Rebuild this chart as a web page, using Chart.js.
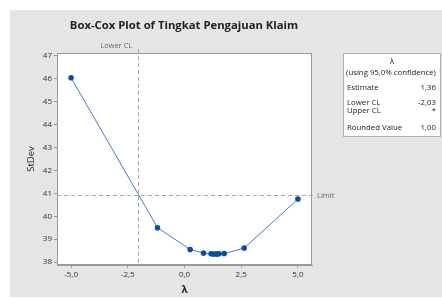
<!DOCTYPE html>
<html><head><meta charset="utf-8">
<script src="https://cdn.jsdelivr.net/npm/chart.js@4/dist/chart.umd.min.js"></script>
<style>html,body{margin:0;padding:0;background:#fff;}#c{display:block;}</style>
</head><body>
<canvas id="c" width="442" height="299"></canvas>
<script>
const lambdaValues = [-5.0, -1.19, 0.25, 0.84, 1.17, 1.26, 1.36, 1.45, 1.52, 1.75, 2.63, 5.0];
const stdevValues  = [46.05, 39.50, 38.55, 38.39, 38.36, 38.35, 38.35, 38.35, 38.36, 38.37, 38.61, 40.75];
const xTickValues = [-5.0, -2.5, 0.0, 2.5, 5.0];
const xTickLabels = ['-5,0', '-2,5', '0,0', '2,5', '5,0'];
const yTickValues = [38, 39, 40, 41, 42, 43, 44, 45, 46, 47];
const limitValue = 40.94;
const lowerCL = -2.03;
const titleText = 'Box-Cox Plot of Tingkat Pengajuan Klaim';
const legendRows = [['Estimate', '1,36'], ['Lower CL', '-2,03'], ['Upper CL', '*'], ['Rounded Value', '1,00']];

const FONT = '"Open Sans", "Noto Sans", sans-serif';

const deco = {
  id: 'deco',
  beforeDraw(chart) {
    const ctx = chart.ctx, a = chart.chartArea;
    ctx.save();
    ctx.fillStyle = '#e5e5e5';
    ctx.fillRect(10, 10, 432, 287);
    ctx.fillStyle = '#ffffff';
    ctx.fillRect(a.left, a.top, a.right - a.left, a.bottom - a.top);
    ctx.restore();
  },
  beforeDatasetsDraw(chart) {
    const ctx = chart.ctx, a = chart.chartArea;
    const xs = chart.scales.x, ys = chart.scales.y;
    const yL = Math.round(ys.getPixelForValue(limitValue)) + 0.5;
    const xL = Math.round(xs.getPixelForValue(lowerCL)) + 0.5;
    ctx.save();
    ctx.strokeStyle = '#a8a8a8';
    ctx.lineWidth = 1;
    ctx.setLineDash([4, 3]);
    ctx.beginPath(); ctx.moveTo(a.left, yL); ctx.lineTo(a.right + 4, yL); ctx.stroke();
    ctx.beginPath(); ctx.moveTo(xL, a.top - 4); ctx.lineTo(xL, a.bottom); ctx.stroke();
    ctx.setLineDash([]);
    ctx.fillStyle = '#666';
    ctx.font = '7.5px ' + FONT;
    ctx.textBaseline = 'middle';
    ctx.textAlign = 'left';
    ctx.fillText('Limit', a.right + 5, yL);
    ctx.textAlign = 'right';
    ctx.fillText('Lower CL', xL - 6, a.top - 7);
    ctx.restore();
  },
  afterDraw(chart) {
    const ctx = chart.ctx, a = chart.chartArea;
    ctx.save();
    ctx.strokeStyle = '#9a9a9a';
    ctx.lineWidth = 1;
    ctx.strokeRect(a.left + 0.5, a.top + 0.5, a.right - a.left - 1, a.bottom - a.top - 1);
    // title
    ctx.fillStyle = '#222';
    ctx.font = 'bold 11.3px ' + FONT;
    ctx.textAlign = 'center';
    ctx.textBaseline = 'middle';
    ctx.fillText(titleText, 184, 26);
    // legend box
    const bx = 343, by = 53, bw = 98, bh = 84;
    ctx.fillStyle = '#fff';
    ctx.fillRect(bx, by, bw, bh);
    ctx.strokeStyle = '#b0b0b0';
    ctx.strokeRect(bx + 0.5, by + 0.5, bw - 1, bh - 1);
    ctx.fillStyle = '#222';
    ctx.font = '7.8px ' + FONT;
    ctx.textAlign = 'center';
    ctx.fillText('λ', bx + bw / 2, 62);
    ctx.fillText('(using 95,0% confidence)', bx + bw / 2 - 1, 73);
    const ys = [88, 103, 111, 128];
    legendRows.forEach((r, i) => {
      ctx.textAlign = 'left';
      ctx.fillText(r[0], bx + 4, ys[i]);
      ctx.textAlign = 'right';
      ctx.fillText(r[1], bx + bw - 5, ys[i]);
    });
    ctx.restore();
  }
};

new Chart(document.getElementById('c'), {
  type: 'scatter',
  data: {
    datasets: [{
      data: lambdaValues.map((v, i) => ({x: v, y: stdevValues[i]})),
      showLine: true,
      borderColor: '#4a7bbb',
      borderWidth: 1,
      pointBackgroundColor: '#0a4f9e',
      pointBorderColor: '#0a4f9e',
      pointRadius: 2.8,
      pointBorderWidth: 0
    }]
  },
  plugins: [deco],
  options: {
    responsive: false,
    animation: false,
    events: [],
    layout: {padding: {left: 10, right: 130, top: 53, bottom: 2}},
    plugins: {legend: {display: false}, tooltip: {enabled: false}, title: {display: false}},
    scales: {
      x: {
        type: 'linear', min: -5.62, max: 5.62,
        afterFit(s) { s.height = 32; },
        afterBuildTicks(s) { s.ticks = xTickValues.map(v => ({value: v})); },
        grid: {drawOnChartArea: false, drawTicks: true, tickLength: 3, color: '#9a9a9a'},
        border: {display: true, color: '#9a9a9a'},
        ticks: {
          font: {family: FONT, size: 8}, color: '#333', padding: 2, maxRotation: 0,
          callback: (v) => { const i = xTickValues.indexOf(v); return i >= 0 ? xTickLabels[i] : ''; }
        },
        title: {display: true, text: 'λ', font: {family: FONT, size: 10, weight: 'bold'}, color: '#222', padding: {top: 0, bottom: 1}}
      },
      y: {
        type: 'linear', min: 37.87, max: 47.13,
        afterFit(s) { s.width = 47; },
        afterBuildTicks(s) { s.ticks = yTickValues.map(v => ({value: v})); },
        grid: {drawOnChartArea: false, drawTicks: true, tickLength: 3, color: '#9a9a9a'},
        border: {display: true, color: '#9a9a9a'},
        ticks: {font: {family: FONT, size: 8}, color: '#333', padding: 2},
        title: {display: true, text: 'StDev', font: {family: FONT, size: 9.5}, color: '#222', padding: {top: 16, bottom: 0}}
      }
    }
  }
});
</script>
</body></html>
